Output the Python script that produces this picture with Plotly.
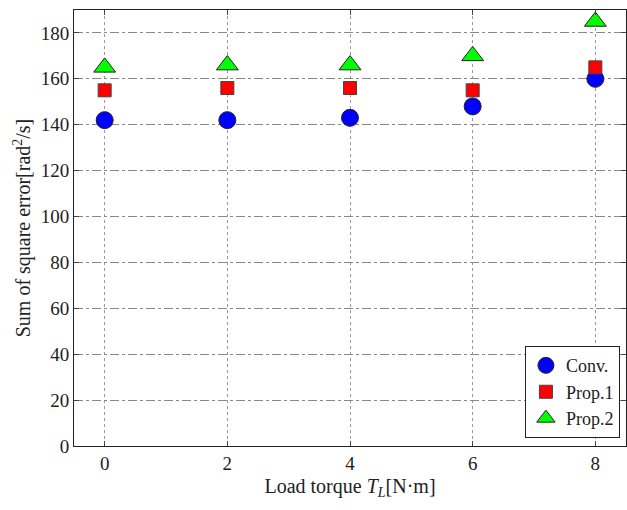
import plotly.graph_objects as go

torque = [0, 2, 4, 6, 8]
conv = [142, 142, 143, 148, 160]
prop1 = [155, 156, 156, 155, 165]
prop2 = [165, 166, 166, 170, 185]
x_ticks = [0, 2, 4, 6, 8]
y_ticks = [0, 20, 40, 60, 80, 100, 120, 140, 160, 180]

font = "Liberation Serif"
fig = go.Figure()
fig.add_trace(go.Scatter(x=torque, y=conv, mode="markers", name="Conv.",
                         marker=dict(symbol="circle", size=17, color="#0000ff",
                                     line=dict(color="#222", width=1))))
fig.add_trace(go.Scatter(x=torque, y=prop1, mode="markers", name="Prop.1",
                         marker=dict(symbol="square", size=13, color="#ff0000",
                                     line=dict(color="#444", width=1))))
fig.add_trace(go.Scatter(x=torque, y=prop2, mode="markers", name="Prop.2",
                         marker=dict(symbol="triangle-up", size=19, color="#00ff00",
                                     line=dict(color="#222", width=1))))

fig.update_layout(
    width=627, height=510,
    margin=dict(l=74, r=1, t=10, b=64),
    plot_bgcolor="white", paper_bgcolor="white",
    font=dict(family=font, size=19, color="#222"),
    showlegend=True,
    legend=dict(x=0.989, y=0.018, xanchor="right", yanchor="bottom",
                bgcolor="white", bordercolor="#222", borderwidth=1,
                font=dict(family=font, size=18), itemwidth=30, tracegroupgap=0),
)
fig.update_xaxes(range=[-0.5, 8.5], tickvals=x_ticks, ticks="inside", ticklen=5,
                 mirror="ticks", showline=True, linecolor="#222", linewidth=1,
                 showgrid=True, gridcolor="#999", griddash="dot", gridwidth=1,
                 zeroline=False, tickfont=dict(family=font, size=19),
                 title=dict(text="Load torque <i>T<sub>L</sub></i>[N·m]",
                            font=dict(family=font, size=20), standoff=6))
fig.update_yaxes(range=[0, 190], tickvals=y_ticks, ticks="inside", ticklen=5,
                 mirror="ticks", showline=True, linecolor="#222", linewidth=1,
                 showgrid=True, gridcolor="#888", griddash="dashdot", gridwidth=1,
                 zeroline=False, tickfont=dict(family=font, size=19),
                 title=dict(text="Sum of square error[rad<sup>2</sup>/s]",
                            font=dict(family=font, size=20), standoff=4))
fig.write_html("out.html", config={"displayModeBar": False},
               post_script="document.body.style.margin='0';document.body.style.overflow='hidden';")
